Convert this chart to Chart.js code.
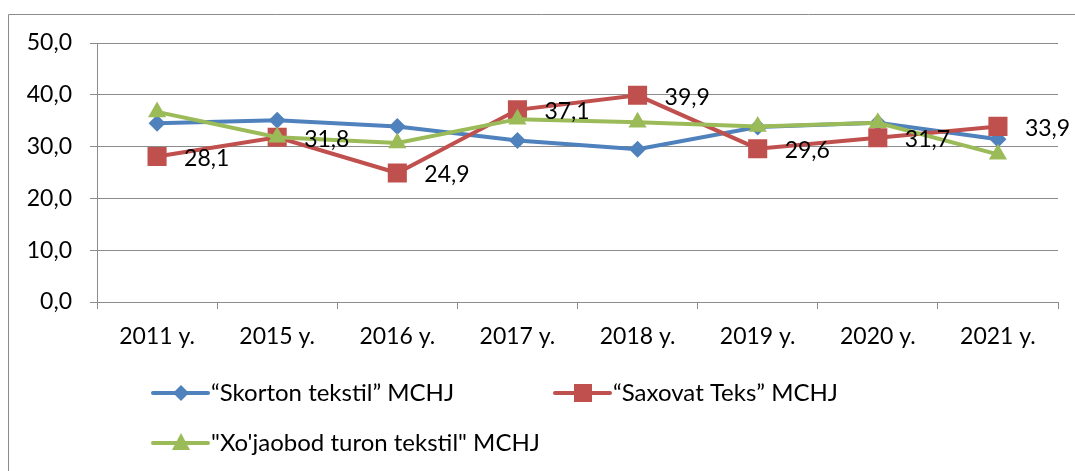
<!DOCTYPE html>
<html>
<head>
<meta charset="utf-8">
<script src="https://cdn.jsdelivr.net/npm/chart.js@4"></script>
<style>
  html, body { margin: 0; padding: 0; background: #fff; }
  #wrap { width: 1075px; height: 471px; position: relative; }
</style>
</head>
<body>
<div id="wrap"><canvas id="chart" width="1075" height="471"></canvas></div>
<script>
// categories and values
const years = ['2011 y.', '2015 y.', '2016 y.', '2017 y.', '2018 y.', '2019 y.', '2020 y.', '2021 y.'];
const skorton = [34.5, 35.1, 33.9, 31.2, 29.5, 33.8, 34.6, 31.4];
const saxovat = [28.1, 31.8, 24.9, 37.1, 39.9, 29.6, 31.7, 33.9];
const xojaobod = [36.7, 31.8, 30.7, 35.3, 34.7, 33.9, 34.6, 28.5];
const seriesNames = ['\u201cSkorton tekstil\u201d MCHJ', '\u201cSaxovat Teks\u201d MCHJ', '"Xo\'jaobod turon tekstil" MCHJ'];
const yTicks = [0, 10, 20, 30, 40, 50];

const FONT = 'Lato';
const GRID = '#8c8c8c';
const BLUE = '#4F81BD', RED = '#C0504D', GREEN = '#9BBB59';

function fmt(v) {
  return v.toFixed(1).replace('.', ',');
}

// outer frame of the chart (left and top edges show in the picture)
const framePlugin = {
  id: 'frame',
  beforeDraw(chart) {
    const ctx = chart.ctx;
    ctx.save();
    ctx.strokeStyle = '#8c8c8c';
    ctx.lineWidth = 1;
    ctx.beginPath();
    ctx.moveTo(8.5, 471);
    ctx.lineTo(8.5, 14.5);
    ctx.lineTo(1075, 14.5);
    ctx.stroke();
    ctx.restore();
  }
};

// value labels on the red series
const labelPlugin = {
  id: 'redLabels',
  afterDatasetsDraw(chart) {
    const ctx = chart.ctx;
    const meta = chart.getDatasetMeta(1);
    ctx.save();
    ctx.font = '23px ' + FONT;
    ctx.fillStyle = '#000';
    ctx.textAlign = 'left';
    ctx.textBaseline = 'middle';
    meta.data.forEach((pt, i) => {
      ctx.fillText(fmt(saxovat[i]), pt.x + 27, pt.y + 2);
    });
    ctx.restore();
  }
};

function marker(ctx, style, x, y, color) {
  ctx.fillStyle = color;
  ctx.beginPath();
  if (style === 'rectRot') {
    ctx.moveTo(x, y - 8); ctx.lineTo(x + 8, y); ctx.lineTo(x, y + 8); ctx.lineTo(x - 8, y);
  } else if (style === 'rect') {
    ctx.rect(x - 9, y - 9, 18, 18);
  } else {
    ctx.moveTo(x, y - 10); ctx.lineTo(x + 9, y + 7); ctx.lineTo(x - 9, y + 7);
  }
  ctx.closePath();
  ctx.fill();
}

// legend laid out like the original: two on the first row, one on the second
const legendPlugin = {
  id: 'myLegend',
  afterDraw(chart) {
    const ctx = chart.ctx;
    const items = [
      { x: 153, y: 393, color: BLUE, style: 'rectRot', text: seriesNames[0] },
      { x: 555, y: 393, color: RED, style: 'rect', text: seriesNames[1] },
      { x: 153, y: 443, color: GREEN, style: 'triangle', text: seriesNames[2] }
    ];
    ctx.save();
    items.forEach((it) => {
      ctx.strokeStyle = it.color;
      ctx.lineWidth = 4;
      ctx.lineCap = 'round';
      ctx.beginPath();
      ctx.moveTo(it.x, it.y);
      ctx.lineTo(it.x + 55, it.y);
      ctx.stroke();
      marker(ctx, it.style, it.x + 28, it.y, it.color);
      ctx.font = '24px ' + FONT;
      ctx.fillStyle = '#000';
      ctx.textAlign = 'left';
      ctx.textBaseline = 'middle';
      ctx.fillText(it.text, it.x + 58, it.y);
    });
    ctx.restore();
  }
};

new Chart(document.getElementById('chart'), {
  type: 'line',
  data: {
    labels: years,
    datasets: [
      {
        label: seriesNames[0], data: skorton, order: 2,
        borderColor: BLUE, backgroundColor: BLUE, borderWidth: 4,
        pointStyle: 'rectRot', pointRadius: 8.5, pointHoverRadius: 8.5,
        pointBorderWidth: 0
      },
      {
        label: seriesNames[1], data: saxovat, order: 1,
        borderColor: RED, backgroundColor: RED, borderWidth: 4,
        pointStyle: 'rect', pointRadius: 13.5, pointHoverRadius: 13.5,
        pointBorderWidth: 0
      },
      {
        label: seriesNames[2], data: xojaobod, order: 0,
        borderColor: GREEN, backgroundColor: GREEN, borderWidth: 4,
        pointStyle: 'triangle', pointRadius: 10.5, pointHoverRadius: 10.5,
        pointBorderWidth: 0
      }
    ]
  },
  options: {
    responsive: false,
    animation: false,
    layout: { padding: { top: 43, left: 0, right: 17, bottom: 120 } },
    plugins: {
      legend: { display: false },
      tooltip: { enabled: false }
    },
    scales: {
      x: {
        offset: true,
        afterFit: (s) => { s.height = 49; },
        grid: { display: true, drawOnChartArea: false, drawTicks: true, tickLength: 7, offset: true, color: GRID },
        border: { display: true, color: GRID, width: 1 },
        ticks: { color: '#000', font: { family: FONT, size: 23 }, padding: 14, maxRotation: 0 }
      },
      y: {
        min: 0,
        max: 50,
        afterFit: (s) => { s.width = 97; },
        afterBuildTicks: (s) => { s.ticks = yTicks.map((v) => ({ value: v })); },
        grid: { color: GRID, tickLength: 7 },
        border: { display: true, color: GRID, width: 1 },
        ticks: { color: '#000', font: { family: FONT, size: 23 }, padding: 18, callback: (v) => fmt(v) }
      }
    }
  },
  plugins: [framePlugin, labelPlugin, legendPlugin]
});
</script>
</body>
</html>
